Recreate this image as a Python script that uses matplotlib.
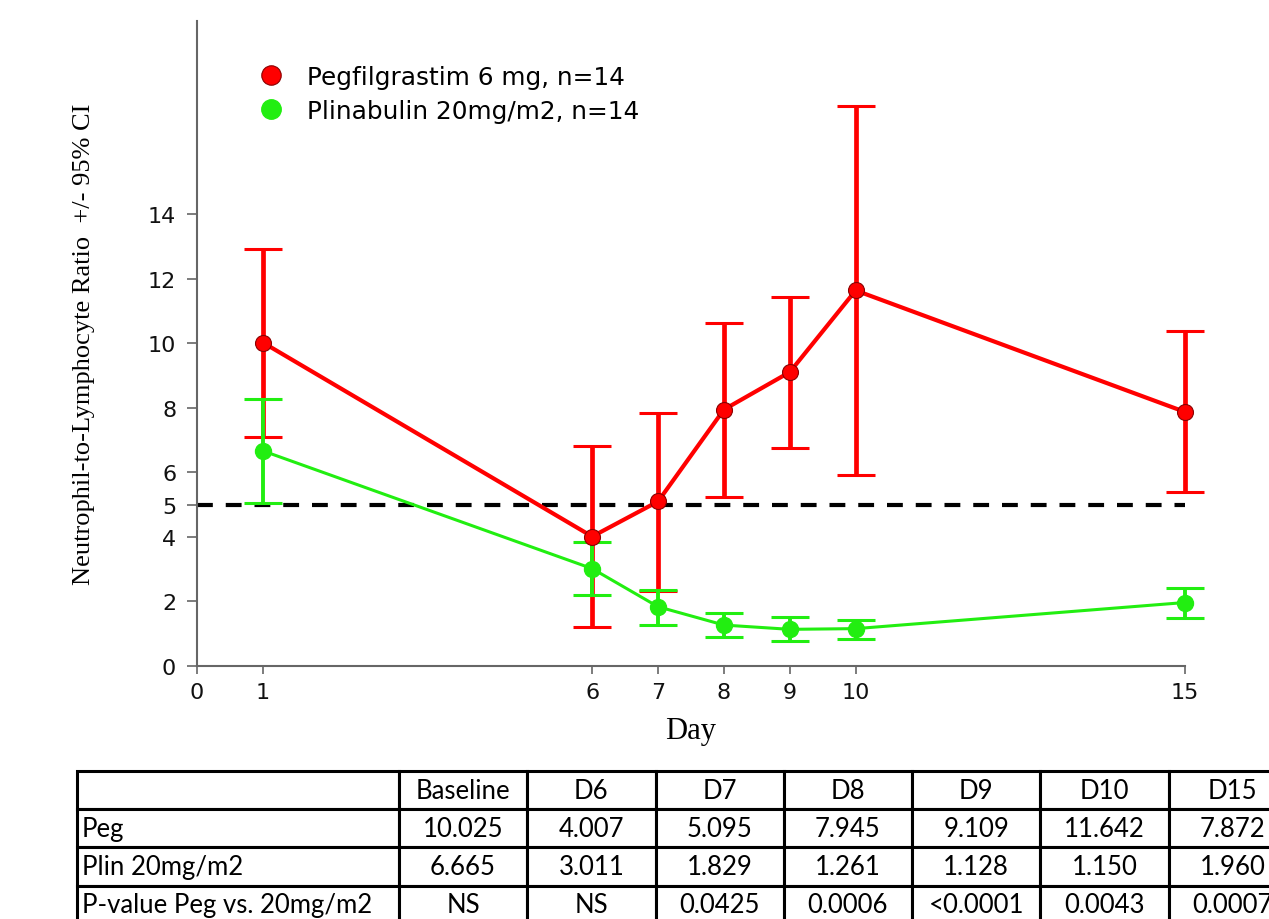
import matplotlib.pyplot as plt
from matplotlib.lines import Line2D

# NLR by day, means and 95% CI bounds
days = [1, 6, 7, 8, 9, 10, 15]
peg = [10.025, 4.007, 5.095, 7.945, 9.109, 11.642, 7.872]
peg_lo = [7.11, 1.19, 2.33, 5.23, 6.76, 5.92, 5.40]
peg_hi = [12.92, 6.83, 7.84, 10.63, 11.44, 17.35, 10.37]
plin = [6.665, 3.011, 1.829, 1.261, 1.128, 1.150, 1.960]
plin_lo = [5.04, 2.20, 1.26, 0.90, 0.76, 0.83, 1.48]
plin_hi = [8.28, 3.83, 2.36, 1.63, 1.50, 1.43, 2.41]
threshold = 5

xticks = [0, 1, 6, 7, 8, 9, 10, 15]
yticks = [0, 2, 4, 5, 6, 8, 10, 12, 14]

col_labels = ['', 'Baseline', 'D6', 'D7', 'D8', 'D9', 'D10', 'D15']
row_peg = ['Peg', '10.025', '4.007', '5.095', '7.945', '9.109', '11.642', '7.872']
row_plin = ['Plin 20mg/m2', '6.665', '3.011', '1.829', '1.261', '1.128', '1.150', '1.960']
row_p = ['P-value Peg vs. 20mg/m2', 'NS', 'NS', '0.0425', '0.0006', '<0.0001', '0.0043', '0.0007']

RED = '#ff0000'
GREEN = '#22ee11'

W, H = 1269, 920
fig = plt.figure(figsize=(W / 100, H / 100), dpi=100)
ax = fig.add_axes([197 / W, 1 - 666.7 / H, (1185 - 197) / W, (666.7 - 22) / H])


def err(mean, lo, hi):
    return [[m - l for m, l in zip(mean, lo)], [h - m for m, h in zip(mean, hi)]]


ax.errorbar(days, peg, yerr=err(peg, peg_lo, peg_hi), fmt='none', ecolor=RED,
            elinewidth=3.4, capsize=14, capthick=2.2, zorder=2, clip_on=False)
ax.errorbar(days, plin, yerr=err(plin, plin_lo, plin_hi), fmt='none', ecolor=GREEN,
            elinewidth=2.8, capsize=14, capthick=2.2, zorder=3, clip_on=False)
ax.plot(days, plin, color=GREEN, lw=2.2, marker='o', ms=11.5, mfc=GREEN, mec=GREEN,
        zorder=4, clip_on=False)
ax.plot(days, peg, color=RED, lw=3, marker='o', ms=11.5, mfc=RED, mec='#8a0000',
        mew=0.8, zorder=5, clip_on=False)
ax.hlines(threshold, 0, 15, colors='black', linestyles=(0, (3.8, 3.1)), lw=3, zorder=1)

ax.set_xlim(0, 15)
ax.set_ylim(0, 20)
ax.set_xticks(xticks)
ax.set_yticks(yticks)
for s in ['top', 'right']:
    ax.spines[s].set_visible(False)
for s in ['left', 'bottom']:
    ax.spines[s].set_color('#666666')
    ax.spines[s].set_linewidth(1.5)
ax.tick_params(axis='y', length=7, width=1.2, color='#666666', labelsize=16,
               labelcolor='#111111', pad=8)
ax.tick_params(axis='x', length=6, width=1.2, color='#666666', labelsize=16,
               labelcolor='#111111', pad=6)

ax.set_xlabel('Day', family='Liberation Serif', fontsize=22, labelpad=10)
ax.set_ylabel('Neutrophil-to-Lymphocyte Ratio  +/- 95% CI', family='Liberation Serif',
              fontsize=19, labelpad=38)

handles = [
    Line2D([], [], ls='none', marker='o', ms=14, mfc=RED, mec='#8a0000', mew=0.8),
    Line2D([], [], ls='none', marker='o', ms=14, mfc=GREEN, mec=GREEN),
]
fig.legend(handles, ['Pegfilgrastim 6 mg, n=14', 'Plinabulin 20mg/m2, n=14'],
           loc='upper left', bbox_to_anchor=(256 / W, 1 - 66 / H), frameon=False,
           fontsize=17.8, handlelength=1.2, handletextpad=0.85, labelspacing=0.4,
           borderaxespad=0, borderpad=0)

# table below the chart, partly cut off on the right like the original
tab_ax = fig.add_axes([77 / W, 1 - 925 / H, (1297 - 77) / W, (925 - 772) / H])
tab_ax.axis('off')
first_w = 322
other_w = 128.3
widths = [first_w] + [other_w] * 7
total = sum(widths)
table = tab_ax.table(cellText=[col_labels, row_peg, row_plin, row_p],
                     colWidths=[w / total for w in widths], bbox=[0, 0, 1, 1],
                     cellLoc='center')
table.auto_set_font_size(False)
for (r, c), cell in table.get_celld().items():
    cell.set_linewidth(2.2)
    cell.set_edgecolor('black')
    cell.get_text().set_fontsize(18.5)
    cell.get_text().set_family('Lato')
    if c == 0:
        cell.get_text().set_ha('left')
        cell.PAD = 0.015

fig.savefig('out.png', dpi=100)
